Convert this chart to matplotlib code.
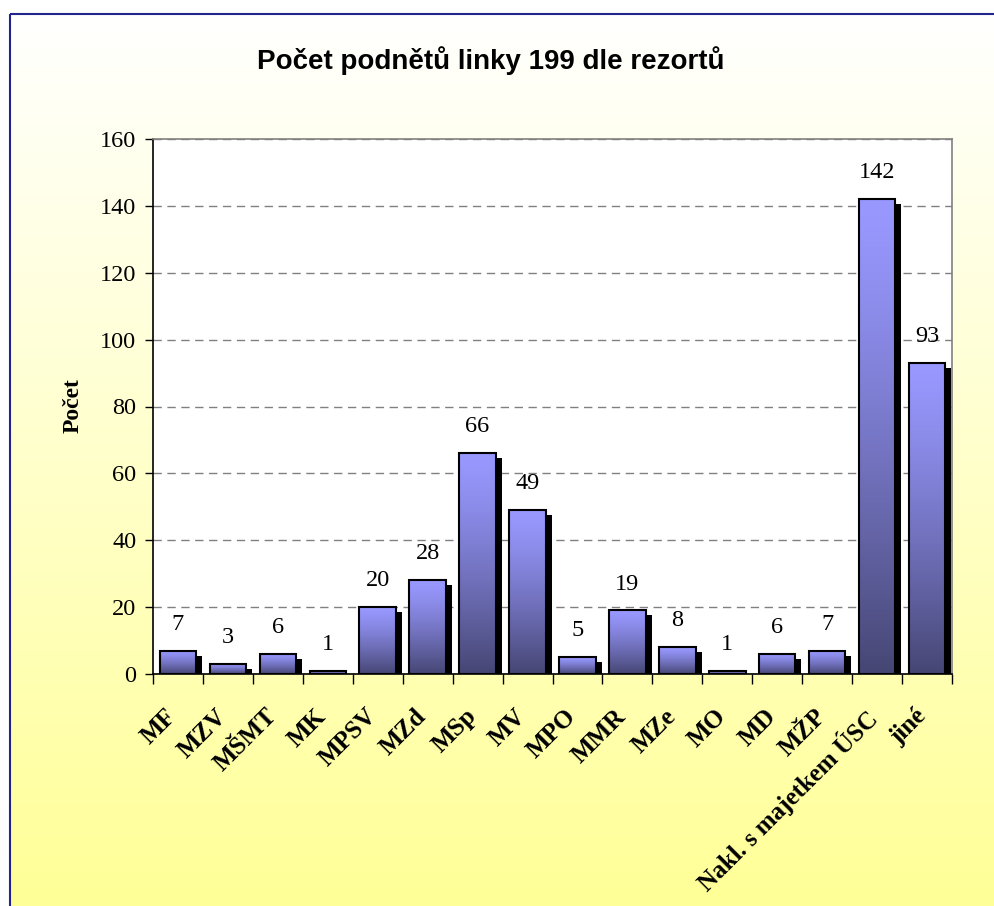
import numpy as np
import matplotlib
matplotlib.use('Agg')
import matplotlib.pyplot as plt
from matplotlib.patches import Rectangle
import matplotlib.transforms as mtransforms

categories = ['MF', 'MZV', 'MŠMT', 'MK', 'MPSV', 'MZd', 'MSp', 'MV', 'MPO', 'MMR',
              'MZe', 'MO', 'MD', 'MŽP', 'Nakl. s majetkem ÚSC', 'jiné']
values = [7, 3, 6, 1, 20, 28, 66, 49, 5, 19, 8, 1, 6, 7, 142, 93]
yticks = [0, 20, 40, 60, 80, 100, 120, 140, 160]
title = 'Počet podnětů linky 199 dle rezortů'
ylabel = 'Počet'

W, H, DPI = 994, 906, 100
fig = plt.figure(figsize=(W / DPI, H / DPI), dpi=DPI, facecolor='white')

# background panel with vertical white -> yellow gradient
bg = fig.add_axes([0, 0, 1, 1], zorder=-10)
bg.axis('off')
t = np.linspace(0, 1, 512)[:, None]
top_c = np.array([255, 255, 255]) / 255
bot_c = np.array([255, 255, 150]) / 255
grad = top_c[None, None, :] * (1 - t[:, :, None]) + bot_c[None, None, :] * t[:, :, None]
bg.imshow(grad, extent=(10, W + 10, H + 10, 14), aspect='auto', origin='upper', zorder=0)
bg.add_patch(Rectangle((10, 14), W + 10, H + 10, facecolor='none',
                       edgecolor='#23238c', linewidth=1.5, zorder=1))
bg.set_xlim(0, W)
bg.set_ylim(H, 0)

fig.text(491 / W, 1 - 61 / H, title, ha='center', va='center', fontsize=20,
         fontweight='bold', family='Liberation Sans')

ax = fig.add_axes([153 / W, 1 - 674 / H, (952 - 153) / W, (674 - 139) / H], zorder=1)
ax.set_facecolor('white')

x = np.arange(len(categories))
bw = 0.73
bars = ax.bar(x, values, width=bw, facecolor='none', edgecolor='black',
              linewidth=1.5, zorder=3)

# gradient for bars
ts = np.linspace(0, 1, 256)[:, None]
c_top = np.array([152, 152, 255]) / 255
c_bot = np.array([70, 70, 116]) / 255
ts2 = ts ** 1.3
bgrad = c_top[None, None, :] * (1 - ts2[:, :, None]) + c_bot[None, None, :] * ts2[:, :, None]

shadow_tr = ax.transData + mtransforms.ScaledTranslation(6 / DPI, -5 / DPI, fig.dpi_scale_trans)
for b in bars:
    x0, w, h = b.get_x(), b.get_width(), b.get_height()
    ax.imshow(bgrad, extent=(x0, x0 + w, 0, h), aspect='auto', origin='upper', zorder=2)
    sh = Rectangle((x0, 0), w, h, facecolor='black', edgecolor='none',
                   transform=shadow_tr, zorder=1.5)
    ax.add_patch(sh)
    ax.annotate(str(int(h)), (x0 + w / 2, h), xytext=(0, 19), textcoords='offset points',
                ha='center', va='center', fontsize=17.5, family='Liberation Serif', zorder=4)

ax.set_xlim(-0.5, len(categories) - 0.5)
ax.set_ylim(0, 160)
ax.set_yticks(yticks)
ax.set_yticklabels([str(v) for v in yticks], fontsize=17.5, family='Liberation Serif')
ax.tick_params(axis='y', direction='out', length=6, width=1, pad=6)

ax.set_xticks(x)
ax.set_xticks(np.arange(-0.5, len(categories)), minor=True)
ax.tick_params(axis='x', which='major', length=0, pad=22)
ax.tick_params(axis='x', which='minor', direction='out', length=7, width=1)
ax.set_xticklabels(categories, rotation=45, ha='right', va='top', rotation_mode='anchor',
                   fontsize=18, fontweight='bold', family='Liberation Serif')
off = mtransforms.ScaledTranslation(-13 / DPI, 0, fig.dpi_scale_trans)
for lab in ax.get_xticklabels():
    lab.set_transform(lab.get_transform() + off)

ax.yaxis.grid(True, color='#808080', linestyle=(0, (6, 4)), linewidth=1)
ax.set_axisbelow(True)
for s in ['top', 'right']:
    ax.spines[s].set_color('#808080')
    ax.spines[s].set_linewidth(1.2)
for s in ['left', 'bottom']:
    ax.spines[s].set_color('black')
    ax.spines[s].set_linewidth(1.2)

fig.text(73 / W, 1 - 406 / H, ylabel, rotation=90, ha='center', va='center',
         fontsize=17, fontweight='bold', family='Liberation Serif')

fig.savefig('out.png', dpi=DPI, facecolor='white')
